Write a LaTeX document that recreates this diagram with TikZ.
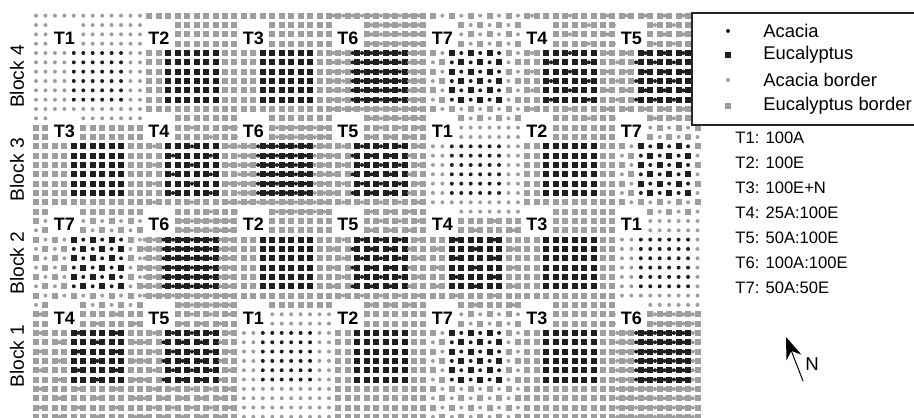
\documentclass[tikz,border=0pt]{standalone}
\usepackage{fontspec}
\setmainfont{Liberation Sans}
\usetikzlibrary{arrows.meta}
\tikzset{
  euc/.style={fill=black!88},
  eucborder/.style={fill=black!38},
  acac/.style={fill=black!88},
  acacborder/.style={fill=black!38},
  plotlabel/.style={
    fill=white,
    inner sep=0pt,
    minimum width=15.8pt,
    minimum height=14.2pt,
    text height=10pt,
    text depth=0pt,
    font=\fontsize{9}{10}\selectfont\bfseries
  },
  blocklabel/.style={rotate=90, inner sep=0pt, font=\fontsize{9.6}{11}\selectfont},
  legendbox/.style={draw=black!85, line width=0.7pt, fill=white},
  legendtext/.style={anchor=west, inner sep=0pt, font=\fontsize{9.2}{11}\selectfont},
  keytext/.style={anchor=west, inner sep=0pt, font=\fontsize{8.3}{10}\selectfont},
  northarrow/.style={-{Stealth[length=11pt,width=8pt]}, line width=0.5pt}
}
% one tree at grid column #1, grid row #2
\newcommand\eucmark[3]{\fill[#3] ({36+9.45*(#1)},{15.7+9.33*(#2)}) +(-3,-3) rectangle +(3,3);}
\newcommand\acacmark[3]{\fill[#3] ({36+9.45*(#1)},{15.7+9.33*(#2)}) circle[radius=1pt];}

\begin{document}
\begin{tikzpicture}[x=0.5pt, y=-0.5pt]
  \useasboundingbox (0,0) rectangle (914,417);

  \foreach \plots [count=\b from 0] in {{1,2,3,6,7,4,5},{3,4,6,5,1,2,7},{7,6,2,5,4,3,1},{4,5,1,2,7,3,6}} {
    \foreach \t [count=\k from 0] in \plots {
      \pgfmathtruncatemacro\ifirst{\k==0 ? 0 : 10*\k+2}
      \pgfmathtruncatemacro\ilast{\k==6 ? 70 : 10*\k+11}
      \pgfmathtruncatemacro\jfirst{\b==0 ? 0 : 10*\b+2}
      \pgfmathtruncatemacro\jlast{\b==3 ? 43 : 10*\b+11}
      \foreach \i in {\ifirst,...,\ilast} {
        \foreach \j in {\jfirst,...,\jlast} {
          \pgfmathtruncatemacro\isinner{(\i>=10*\k+4) && (\i<=10*\k+9) && (\j>=10*\b+4) && (\j<=10*\b+9)}
          \ifnum\isinner=1
            \tikzset{eucnow/.style=euc, acacnow/.style=acac}
          \else
            \tikzset{eucnow/.style=eucborder, acacnow/.style=acacborder}
          \fi
          \ifcase\t
          \or \acacmark{\i}{\j}{acacnow}
          \or \eucmark{\i}{\j}{eucnow}
          \or \eucmark{\i}{\j}{eucnow}
          \or \eucmark{\i}{\j}{eucnow}
              \pgfmathtruncatemacro\hasdot{(mod(\i+2*\j+3,4)==0) && (\i>0)}
              \ifnum\hasdot=1 \acacmark{\i-0.5}{\j}{acacnow}\fi
          \or \eucmark{\i}{\j}{eucnow}
              \pgfmathtruncatemacro\hasdot{(mod(\i+\j,2)==1) && (\i>0)}
              \ifnum\hasdot=1 \acacmark{\i-0.5}{\j}{acacnow}\fi
          \or \eucmark{\i}{\j}{eucnow}
              \ifnum\i>0 \acacmark{\i-0.5}{\j}{acacnow}\fi
          \or \pgfmathtruncatemacro\iseuc{mod(\i+\j,2)==0}
              \ifnum\iseuc=1 \eucmark{\i}{\j}{eucnow}\else\acacmark{\i}{\j}{acacnow}\fi
          \fi
        }
      }
      \node[plotlabel] (T\b-\k) at ({36+9.45*(10*\k+3)},{15.7+9.33*(10*\b+2)}) {T\t};
    }
  }

  \foreach \name [count=\b from 0] in {4,3,2,1}
    \node[blocklabel] (block\name) at (17,{15.7+9.33*(10*\b+6.5)}) {Block \name};

  \draw[legendbox] (692,13) rectangle (930,125);
  \fill[acac] (728,31) circle[radius=1pt];
  \node[legendtext] (acacia) at (763,31) {Acacia};
  \fill[euc] (728,55) +(-3,-3) rectangle +(3,3);
  \node[legendtext] (eucalyptus) at (763,55) {Eucalyptus};
  \fill[acacborder] (728,80) circle[radius=1pt];
  \node[legendtext] (acaciaborder) at (763,80) {Acacia border};
  \fill[eucborder] (728,106) +(-3,-3) rectangle +(3,3);
  \node[legendtext] (eucalyptusborder) at (763,106) {Eucalyptus border};

  \foreach \key [count=\n from 0] in {T1: 100A, T2: 100E, T3: 100E+N, T4: 25A:100E, T5: 50A:100E, T6: 100A:100E, T7: 50A:50E}
    \node[keytext] (key\n) at (735,{138+25*\n}) {\key};

  \coordinate (ntail) at (803,381);
  \coordinate (ntip) at (786,337);
  \draw[northarrow] (ntail) -- (ntip);
  \node[font=\fontsize{9.3}{11}\selectfont, inner sep=0pt] (north) at (812,364) {N};
\end{tikzpicture}
\end{document}
